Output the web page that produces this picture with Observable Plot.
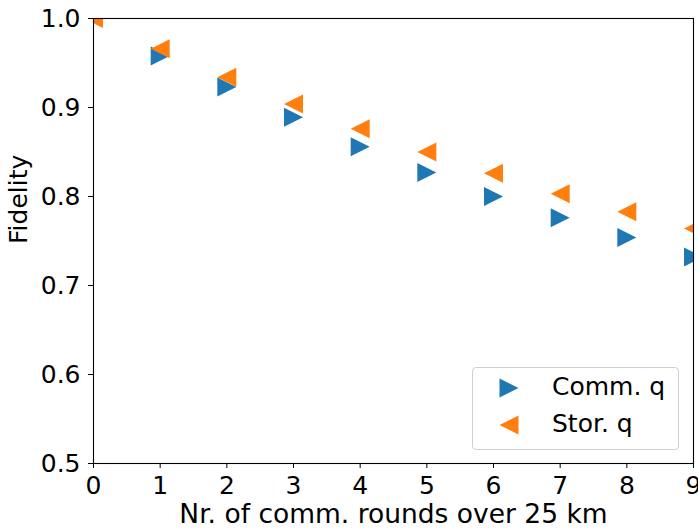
<!DOCTYPE html>
<html>
<head>
<meta charset="utf-8">
<script src="https://cdn.jsdelivr.net/npm/d3@7"></script>
<script src="https://cdn.jsdelivr.net/npm/@observablehq/plot@0.6"></script>
<style>
  html, body { margin: 0; padding: 0; background: white; }
  #wrap { position: relative; width: 698px; height: 531px; font-family: "DejaVu Sans", sans-serif; }
  #legend { position: absolute; left: 472px; top: 367px; width: 205px; height: 81px;
    border: 1px solid #d0d0d0; border-radius: 4px; background: rgba(255,255,255,0.8); }
  #legend svg { position: absolute; left: 0; top: 0; }
</style>
</head>
<body>
<div id="wrap"><div id="legend"></div></div>
<script>
const rounds = [0, 1, 2, 3, 4, 5, 6, 7, 8, 9];
const commQ = [1.0, 0.958, 0.923, 0.889, 0.856, 0.827, 0.800, 0.776, 0.754, 0.732];
const storQ = [1.0, 0.966, 0.934, 0.904, 0.876, 0.850, 0.826, 0.803, 0.783, 0.764];
const seriesNames = ["Comm. q", "Stor. q"];
const colors = ["#1f77b4", "#ff7f0e"];
const xTicks = [0, 1, 2, 3, 4, 5, 6, 7, 8, 9];
const yTicks = [0.5, 0.6, 0.7, 0.8, 0.9, 1.0];
const xLabel = "Nr. of comm. rounds over 25 km";
const yLabel = "Fidelity";

const triRight = { draw(ctx, size) { const h = Math.sqrt(size / Math.PI);
  ctx.moveTo(h, 0); ctx.lineTo(-h, -h); ctx.lineTo(-h, h); ctx.closePath(); } };
const triLeft = { draw(ctx, size) { const h = Math.sqrt(size / Math.PI);
  ctx.moveTo(-h, 0); ctx.lineTo(h, -h); ctx.lineTo(h, h); ctx.closePath(); } };

const commData = rounds.map((r, i) => ({ x: r, y: commQ[i] }));
const storData = rounds.map((r, i) => ({ x: r, y: storQ[i] }));

const chart = Plot.plot({
  width: 698, height: 531,
  marginLeft: 93, marginRight: 5, marginTop: 18, marginBottom: 68,
  style: { fontFamily: "DejaVu Sans", fontSize: "25px", color: "black", background: "white", overflow: "visible" },
  x: { domain: [0, 9] },
  y: { domain: [0.5, 1.0] },
  marks: [
    Plot.dot(commData, { x: "x", y: "y", symbol: triRight, r: 9.5, fill: colors[0], clip: true }),
    Plot.dot(storData, { x: "x", y: "y", symbol: triLeft, r: 9.5, fill: colors[1], clip: true }),
    Plot.frame({ stroke: "black", strokeWidth: 1.1 }),
    Plot.axisX({ ticks: xTicks, tickFormat: d => String(d), tickSize: 5, tickPadding: 8, fontSize: 25, label: null, stroke: "black" }),
    Plot.axisY({ ticks: yTicks, tickFormat: d3.format(".1f"), tickSize: 5, tickPadding: 8, fontSize: 25, label: null, stroke: "black" }),
    Plot.text([xLabel], { text: d => d, frameAnchor: "bottom", dy: 51, lineAnchor: "middle", fontSize: 26.5, fill: "black" }),
    Plot.text([yLabel], { text: d => d, frameAnchor: "left", rotate: -90, dx: -75, dy: 3, lineAnchor: "middle", fontSize: 25, fill: "black" })
  ]
});
document.getElementById("wrap").prepend(chart);

const legend = document.getElementById("legend");
const NS = "http://www.w3.org/2000/svg";
const lsvg = document.createElementNS(NS, "svg");
lsvg.setAttribute("width", 205); lsvg.setAttribute("height", 81);
const symPaths = [
  (cx, cy, h) => `M${cx + h},${cy} L${cx - h},${cy - h} L${cx - h},${cy + h} Z`,
  (cx, cy, h) => `M${cx - h},${cy} L${cx + h},${cy - h} L${cx + h},${cy + h} Z`
];
seriesNames.forEach((name, i) => {
  const cy = i === 0 ? 20 : 57;
  const p = document.createElementNS(NS, "path");
  p.setAttribute("d", symPaths[i](36, cy, 9.5));
  p.setAttribute("fill", colors[i]);
  lsvg.appendChild(p);
  const t = document.createElementNS(NS, "text");
  t.setAttribute("x", 79); t.setAttribute("y", cy + 7);
  t.setAttribute("font-family", "DejaVu Sans"); t.setAttribute("font-size", 25);
  t.setAttribute("fill", "black");
  t.textContent = name;
  lsvg.appendChild(t);
});
legend.appendChild(lsvg);
</script>
</body>
</html>
